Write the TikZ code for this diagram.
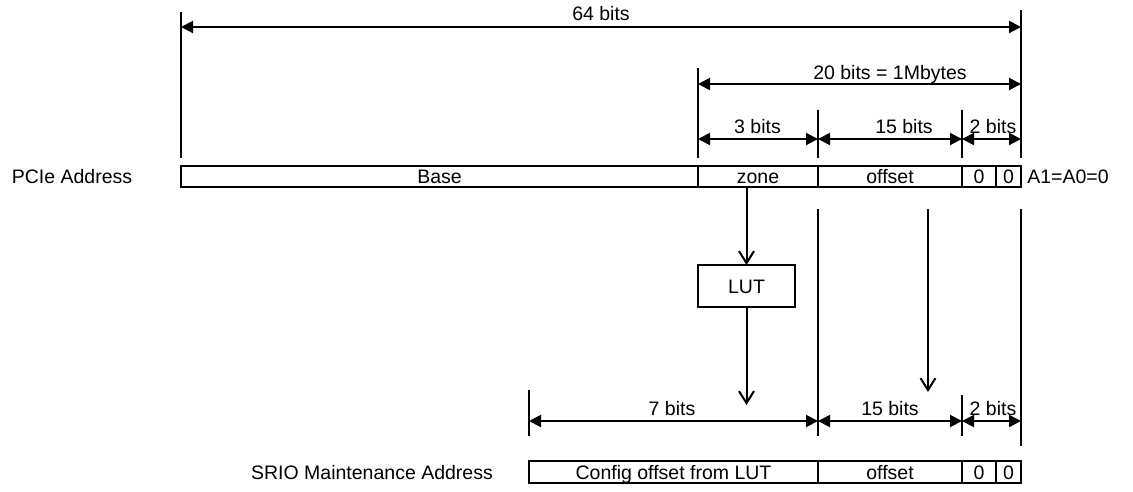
\documentclass[tikz,border=0pt]{standalone}
\usepackage{fontspec}
\setmainfont{Liberation Sans}
\usepackage{tikz}
\usetikzlibrary{arrows.meta,positioning}

\begin{document}
\begin{tikzpicture}[x=1pt,y=-1pt,font=\fontsize{19.5}{22}\selectfont,
    every node/.style={text height=14pt,text depth=0pt},
    cell/.style={draw,line width=2pt,minimum height=21pt,inner sep=0pt,outer sep=0pt,anchor=west},
    dim/.style={line width=2pt,{Triangle[length=12pt,width=12pt]}-{Triangle[length=12pt,width=12pt]}},
    ext/.style={line width=2pt},
    flow/.style={line width=2pt,-{Straight Barb[length=12pt,width=15pt]}}]
      \useasboundingbox (0,0) rectangle (1133,491);
      % PCIe address
      \node[cell,minimum width=517pt] (base) at (181,176.5) {Base};
      \node[cell,minimum width=120pt] (zone) at (base.east) {zone};
      \node[cell,minimum width=144pt] (offs) at (zone.east) {offset};
      \node[cell,minimum width=34pt]  (za) at (offs.east) {0};
      \node[cell,minimum width=25pt]  (zb) at (za.east) {0};
      \node (pcie) at (72,176.5) {PCIe Address};
      \node (aszero) at (1068,176.5) {A1=A0=0};
      % SRIO address
      \node[cell,minimum width=289pt,minimum height=22pt] (cfg) at (529,472) {Config offset from LUT};
      \node[cell,minimum width=144pt,minimum height=22pt] (offsb) at (cfg.east) {offset};
      \node[cell,minimum width=34pt,minimum height=22pt]  (zc) at (offsb.east) {0};
      \node[cell,minimum width=25pt,minimum height=22pt]  (zd) at (zc.east) {0};
      \node (srio) at (372,472) {SRIO Maintenance Address};
      % LUT
      \node[cell,anchor=center,minimum width=97pt,minimum height=42pt] (lut) at (746.5,286) {LUT};
      % extension lines
      \foreach \x/\y in {181/12,698/68,818/110,962/110,1021/10}
        \draw[ext] (\x,\y) -- (\x,158);
      \foreach \x/\y/\z in {529/390/436,818/209/436,962/395/436,1021/209/446}
        \draw[ext] (\x,\y) -- (\x,\z);
      % widths
      \draw[dim] (181,27) -- (1021,27);
      \node (w64) at (601,13.5) {64 bits};
      \draw[dim] (698,84) -- (1021,84);
      \node (w20) at (890,72) {20 bits = 1Mbytes};
      \draw[dim] (698,139) -- (818,139);
      \draw[dim] (818,139) -- (962,139);
      \draw[dim] (962,139) -- (1021,139);
      \node (w3) at (757.5,126.5) {3 bits};
      \node (w15) at (904,126.5) {15 bits};
      \node (w2) at (993,126.5) {2 bits};
      \draw[dim] (529,421) -- (818,421);
      \draw[dim] (818,421) -- (962,421);
      \draw[dim] (962,421) -- (1021,421);
      \node (w7) at (672,408) {7 bits};
      \node (w15b) at (890,408) {15 bits};
      \node (w2b) at (993,408) {2 bits};
      % flow
      \coordinate (lutout) at (746.5,405);
      \coordinate (offtop) at (928,209);
      \coordinate (offout) at (928,392);
      \draw[flow] (zone.south -| lut.north) -- (lut.north);
      \draw[flow] (lut.south) -- (lutout);
      \draw[flow] (offtop) -- (offout);
    \end{tikzpicture}
\end{document}
